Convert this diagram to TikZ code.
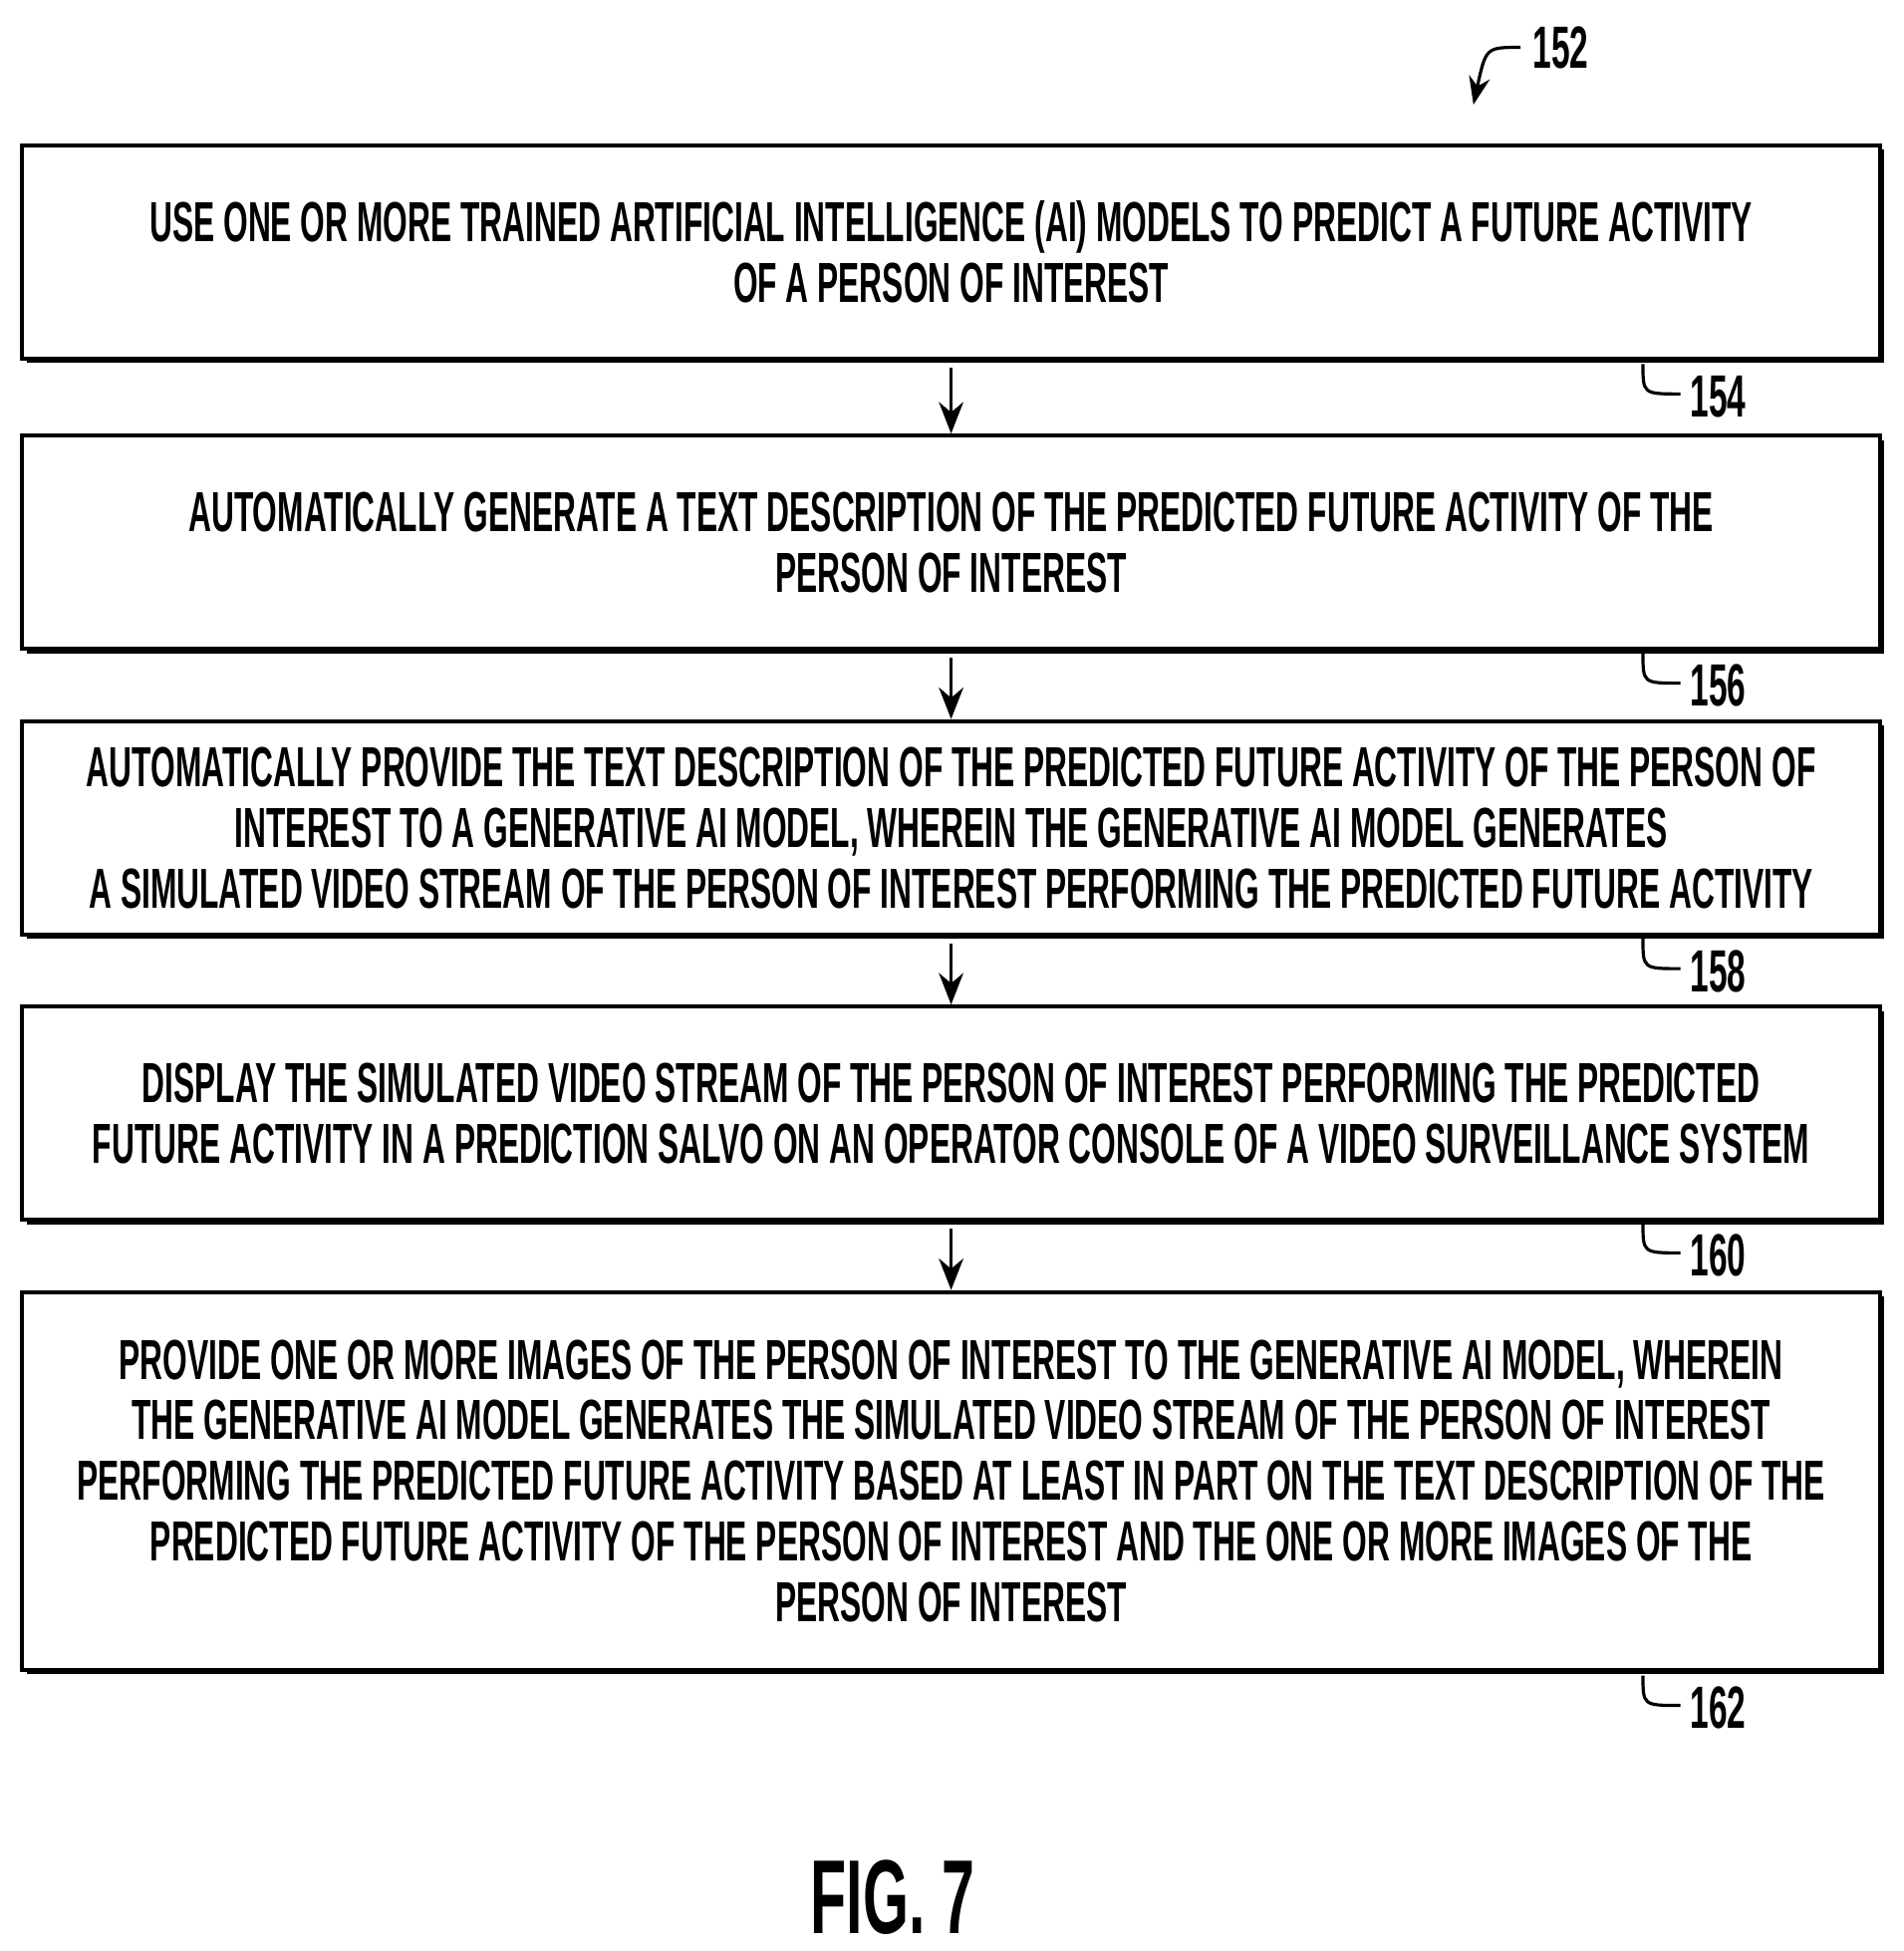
\documentclass[tikz,border=0pt]{standalone}
\usepackage{fontspec}
\setmainfont{Liberation Sans}[FakeStretch=0.56]
\usetikzlibrary{shadows,arrows.meta}
\tikzset{
  stepbox/.style={draw, line width=1.2pt, fill=white, minimum width=14.9cm*1.25, align=center,
    font=\fontsize{16.1}{17.3}\selectfont\bfseries,
    drop shadow={shadow xshift=.45mm, shadow yshift=-.45mm, fill=black, opacity=1}},
  reflabel/.style={font=\fontsize{17}{20}\selectfont\bfseries},
  hook/.style={line width=.9pt}
}
\begin{document}
\begin{tikzpicture}[x=0.0125cm, y=-0.0125cm]
  \useasboundingbox (0,0) rectangle (1527,1565);
  % process steps
  \node[stepbox, minimum height=171*0.0125cm] (s154) at (763,202) {USE ONE OR MORE TRAINED ARTIFICIAL INTELLIGENCE (AI) MODELS TO PREDICT A FUTURE ACTIVITY\\OF A PERSON OF INTEREST};
  \node[stepbox, minimum height=171*0.0125cm] (s156) at (763,435) {AUTOMATICALLY GENERATE A TEXT DESCRIPTION OF THE PREDICTED FUTURE ACTIVITY OF THE\\PERSON OF INTEREST};
  \node[stepbox, minimum height=171*0.0125cm] (s158) at (763,664) {AUTOMATICALLY PROVIDE THE TEXT DESCRIPTION OF THE PREDICTED FUTURE ACTIVITY OF THE PERSON OF\\INTEREST TO A GENERATIVE AI MODEL, WHEREIN THE GENERATIVE AI MODEL GENERATES\\A SIMULATED VIDEO STREAM OF THE PERSON OF INTEREST PERFORMING THE PREDICTED FUTURE ACTIVITY};
  \node[stepbox, minimum height=171*0.0125cm] (s160) at (763,893) {DISPLAY THE SIMULATED VIDEO STREAM OF THE PERSON OF INTEREST PERFORMING THE PREDICTED\\FUTURE ACTIVITY IN A PREDICTION SALVO ON AN OPERATOR CONSOLE OF A VIDEO SURVEILLANCE SYSTEM};
  \node[stepbox, minimum height=303*0.0125cm] (s162) at (763,1188) {PROVIDE ONE OR MORE IMAGES OF THE PERSON OF INTEREST TO THE GENERATIVE AI MODEL, WHEREIN\\THE GENERATIVE AI MODEL GENERATES THE SIMULATED VIDEO STREAM OF THE PERSON OF INTEREST\\PERFORMING THE PREDICTED FUTURE ACTIVITY BASED AT LEAST IN PART ON THE TEXT DESCRIPTION OF THE\\PREDICTED FUTURE ACTIVITY OF THE PERSON OF INTEREST AND THE ONE OR MORE IMAGES OF THE\\PERSON OF INTEREST};

  % arrows
  \foreach \a/\b in {s154/s156, s156/s158, s158/s160, s160/s162}
    \draw[-{Stealth[length=9pt,width=7pt]}, line width=.9pt] ([yshift=-2pt]\a.south) -- (\b.north);

  % reference numerals
  \foreach \n/\y in {154/292, 156/524, 158/753, 160/981, 162/1344} {
    \draw[hook] (1318,\y) .. controls (1318,\y+24) .. (1348,\y+24);
    \node[reflabel, anchor=west] (r\n) at (1346,\y+26) {\n};
  }
  \node[reflabel] (r152) at (1252,38) {152};
  \draw[hook, -{Stealth[length=8pt,width=6pt]}] (r152.west) .. controls (1192,38) .. (1182,84);

  \node[font=\fontsize{30}{32}\selectfont\bfseries] (fig) at (716,1522) {FIG. 7};
\end{tikzpicture}
\end{document}
